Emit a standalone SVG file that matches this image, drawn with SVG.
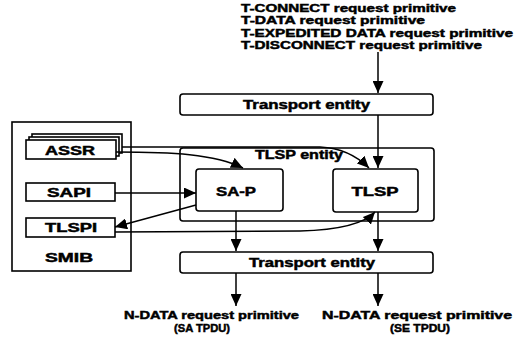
<svg xmlns="http://www.w3.org/2000/svg" width="515" height="338" viewBox="0 0 515 338">
<style>
.box{fill:#fff;stroke:#000;stroke-width:1.6}
.ln{fill:none;stroke:#000;stroke-width:1.5}
.t{font-family:"Liberation Sans",Arial,sans-serif;font-weight:bold;font-size:12px;fill:#000;stroke:#000;stroke-width:0.45}
.s{font-size:10.5px}
.c{text-anchor:middle}
</style>
<defs>
<marker id="ah" markerUnits="userSpaceOnUse" markerWidth="12" markerHeight="11" refX="12" refY="5.5" orient="auto">
<path d="M0,0 L12,5.5 L0,11 z" fill="#000"/>
</marker>
</defs>
<g id="primitives-in">
<text class="t s" x="241" y="12" textLength="215" lengthAdjust="spacingAndGlyphs">T-CONNECT request primitive</text>
<text class="t s" x="241" y="24.4" textLength="184" lengthAdjust="spacingAndGlyphs">T-DATA request primitive</text>
<text class="t s" x="241" y="36.8" textLength="272" lengthAdjust="spacingAndGlyphs">T-EXPEDITED DATA request primitive</text>
<text class="t s" x="241" y="49.2" textLength="241" lengthAdjust="spacingAndGlyphs">T-DISCONNECT request primitive</text>
</g>
<g id="tlsp-entity">
<rect class="box" x="180" y="148" width="254" height="73" rx="3"/>
<text class="t" x="255" y="159" textLength="88" lengthAdjust="spacingAndGlyphs">TLSP entity</text>
</g>
<g id="smib">
<rect class="box" x="12" y="122" width="119" height="149"/>
<text class="t c" x="69" y="262" textLength="48" lengthAdjust="spacingAndGlyphs">SMIB</text>
</g>
<g id="transport-top">
<rect class="box" x="180" y="94" width="253" height="21" rx="3"/>
<text class="t" x="243" y="109" textLength="127" lengthAdjust="spacingAndGlyphs">Transport entity</text>
</g>
<g id="sa-p">
<rect class="box" x="196" y="169" width="87" height="42" rx="3"/>
<text class="t c" x="236" y="196" textLength="40" lengthAdjust="spacingAndGlyphs">SA-P</text>
</g>
<g id="tlsp">
<rect class="box" x="333" y="169" width="85" height="43" rx="3"/>
<text class="t c" x="375" y="196" textLength="47" lengthAdjust="spacingAndGlyphs">TLSP</text>
</g>
<g id="transport-bottom">
<rect class="box" x="180" y="252" width="253" height="21" rx="3"/>
<text class="t" x="249" y="267" textLength="126" lengthAdjust="spacingAndGlyphs">Transport entity</text>
</g>
<g id="assr">
<rect class="box" x="32" y="134" width="90" height="19"/>
<rect class="box" x="29" y="137" width="90" height="19"/>
<rect class="box" x="26" y="140" width="90" height="19"/>
<text class="t c" x="70" y="155" textLength="50" lengthAdjust="spacingAndGlyphs">ASSR</text>
</g>
<g id="sapi">
<rect class="box" x="26" y="183" width="89" height="18"/>
<text class="t c" x="69" y="197" textLength="44" lengthAdjust="spacingAndGlyphs">SAPI</text>
</g>
<g id="tlspi">
<rect class="box" x="26" y="218" width="89" height="19"/>
<text class="t c" x="71" y="232" textLength="52" lengthAdjust="spacingAndGlyphs">TLSPI</text>
</g>
<g id="ndata-sa">
<text class="t s" x="124" y="319" textLength="175" lengthAdjust="spacingAndGlyphs">N-DATA request primitive</text>
<text class="t s" x="174" y="331.5" textLength="56" lengthAdjust="spacingAndGlyphs">(SA TPDU)</text>
</g>
<g id="ndata-se">
<text class="t s" x="322" y="319" textLength="190" lengthAdjust="spacingAndGlyphs">N-DATA request primitive</text>
<text class="t s" x="390" y="331.5" textLength="60" lengthAdjust="spacingAndGlyphs">(SE TPDU)</text>
</g>
<g id="connectors">
<path class="ln" d="M378,52 L378,93" marker-end="url(#ah)"/>
<path class="ln" d="M378,115 L378,168" marker-end="url(#ah)"/>
<path class="ln" d="M236,211 L236,251" marker-end="url(#ah)"/>
<path class="ln" d="M378,212 L378,251" marker-end="url(#ah)"/>
<path class="ln" d="M236,273 L236,306" marker-end="url(#ah)"/>
<path class="ln" d="M378,273 L378,306" marker-end="url(#ah)"/>
<path class="ln" d="M122,147 L320,147 C342,148 358,157 369,168" marker-end="url(#ah)"/>
<path class="ln" d="M116,152 C172,152 214,154 243,168" marker-end="url(#ah)"/>
<path class="ln" d="M115,193 L196,193" marker-end="url(#ah)"/>
<path class="ln" d="M196,205 L115,227" marker-end="url(#ah)"/>
<path class="ln" d="M115,232 L300,231 C338,230 364,224 375,212" marker-end="url(#ah)"/>
</g>
</svg>
